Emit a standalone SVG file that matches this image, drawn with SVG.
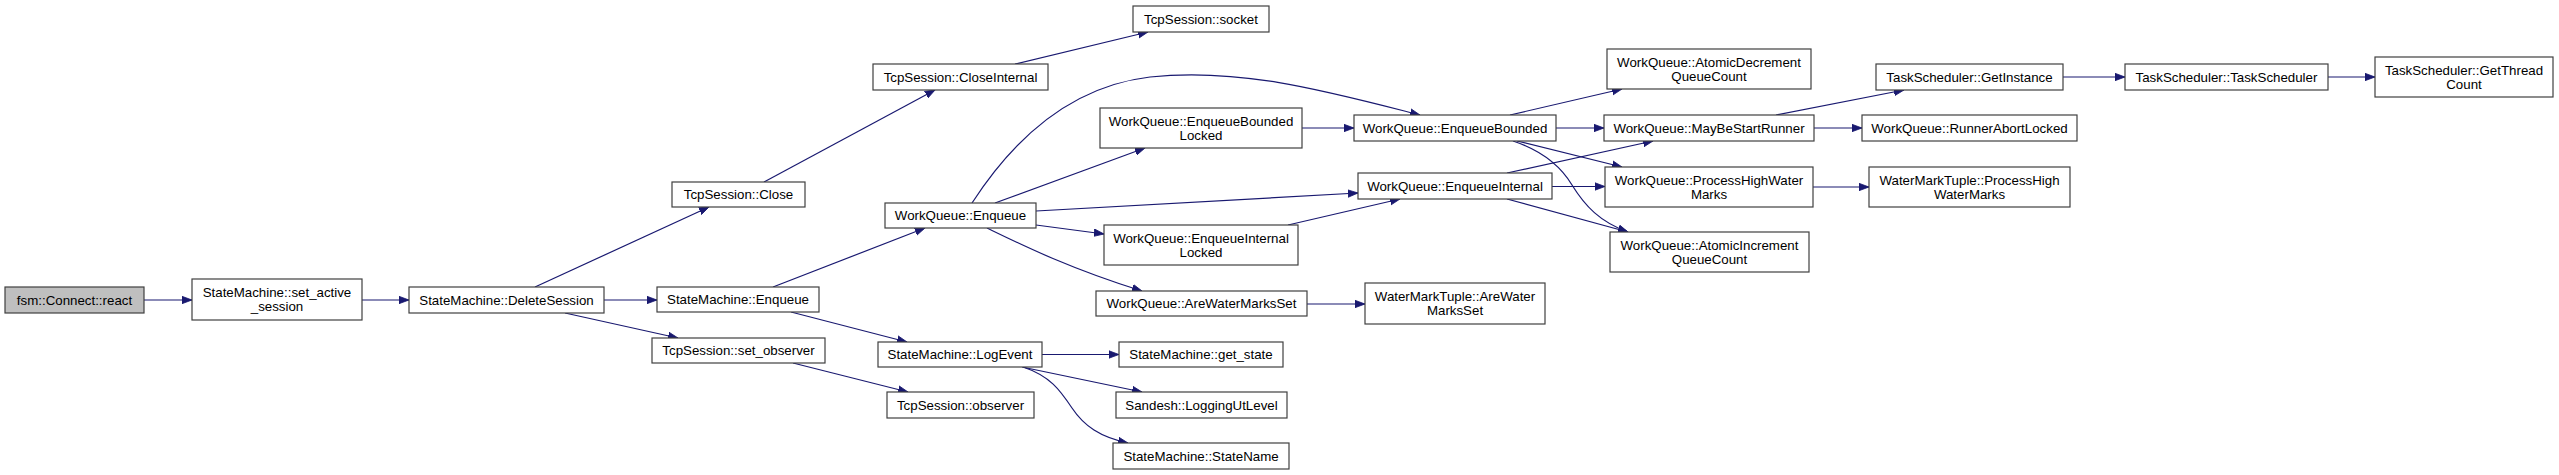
<svg xmlns="http://www.w3.org/2000/svg" width="2559" height="475" viewBox="0 0 2559 475">
<style>
.n rect{fill:#ffffff;stroke:#404040;stroke-width:1.2}
.n.root rect{fill:#bfbfbf}
.n text{font-family:"Liberation Sans",Arial,Helvetica,sans-serif;font-size:13.3px;fill:#000;text-anchor:middle}
.e path{fill:none;stroke:#191970;stroke-width:1.2;marker-end:url(#ah)}
</style>
<defs>
<marker id="ah" markerUnits="userSpaceOnUse" markerWidth="12" markerHeight="10" refX="10" refY="4" orient="auto" viewBox="0 0 12 8">
<path d="M0,0.3 L10,4 L0,7.7 z" fill="#191970" stroke="#191970" stroke-width="0.8"/>
</marker>
</defs>
<rect width="2559" height="475" fill="#ffffff"/>
<g id="edges" class="e">
<path d="M144,300 L192,300"/>
<path d="M362,300 L409,300"/>
<path d="M535,287 L709,207"/>
<path d="M604,300 L657,300"/>
<path d="M565,313 L678,338"/>
<path d="M764,182 L935,90"/>
<path d="M1015,64 L1148,32"/>
<path d="M773,287 L925,228"/>
<path d="M791,312 L907,342"/>
<path d="M793,363 L908,392"/>
<path d="M972,203 C1007,149 1064,87 1150,77 C1240,67 1330,92 1420,115"/>
<path d="M995,203 L1145,148"/>
<path d="M1036,211 L1358,193"/>
<path d="M1036,225 L1104,234"/>
<path d="M987,228 C1020,244 1068,268 1142,291"/>
<path d="M1302,128 L1354,128"/>
<path d="M1288,225 L1400,199"/>
<path d="M1307,304 L1365,304"/>
<path d="M1042,354.5 L1119,354.5"/>
<path d="M1022,367 L1142,392"/>
<path d="M1023,367 C1050,376 1060,390 1072,408 C1084,426 1100,437 1128,443"/>
<path d="M1510,115 L1622,89"/>
<path d="M1556,128 L1604,128"/>
<path d="M1517,141 L1622,167"/>
<path d="M1513,141 C1540,150 1560,165 1572,185 C1585,206 1600,222 1628,232"/>
<path d="M1507,173 L1653,141"/>
<path d="M1552,186.5 L1605,186.5"/>
<path d="M1507,199 L1628,232"/>
<path d="M1776,115 L1904,90"/>
<path d="M1814,128 L1862,128"/>
<path d="M1813,187 L1869,187"/>
<path d="M2063,77 L2125,77"/>
<path d="M2328,77 L2375,77"/>
</g>
<g id="n_react" class="n root"><rect x="5" y="287" width="139" height="26"/><text x="74.5" y="304.5">fsm::Connect::react</text></g>
<g id="n_set_active_session" class="n"><rect x="192" y="279" width="170" height="41"/><text x="277" y="297">StateMachine::set_active</text><text x="277" y="311">_session</text></g>
<g id="n_DeleteSession" class="n"><rect x="409" y="287" width="195" height="26"/><text x="506.5" y="304.5">StateMachine::DeleteSession</text></g>
<g id="n_Close" class="n"><rect x="672" y="182" width="133" height="25"/><text x="738.5" y="199">TcpSession::Close</text></g>
<g id="n_SM_Enqueue" class="n"><rect x="657" y="287" width="162" height="25"/><text x="738" y="304">StateMachine::Enqueue</text></g>
<g id="n_set_observer" class="n"><rect x="652" y="338" width="173" height="25"/><text x="738.5" y="355">TcpSession::set_observer</text></g>
<g id="n_CloseInternal" class="n"><rect x="873" y="64" width="175" height="26"/><text x="960.5" y="81.5">TcpSession::CloseInternal</text></g>
<g id="n_WQ_Enqueue" class="n"><rect x="885" y="203" width="151" height="25"/><text x="960.5" y="220">WorkQueue::Enqueue</text></g>
<g id="n_LogEvent" class="n"><rect x="878" y="342" width="164" height="25"/><text x="960" y="359">StateMachine::LogEvent</text></g>
<g id="n_observer" class="n"><rect x="887" y="392" width="147" height="26"/><text x="960.5" y="409.5">TcpSession::observer</text></g>
<g id="n_socket" class="n"><rect x="1133" y="6" width="136" height="26"/><text x="1201" y="23.5">TcpSession::socket</text></g>
<g id="n_EnqueueBoundedLocked" class="n"><rect x="1100" y="108" width="202" height="40"/><text x="1201" y="125.5">WorkQueue::EnqueueBounded</text><text x="1201" y="139.5">Locked</text></g>
<g id="n_EnqueueInternalLocked" class="n"><rect x="1104" y="225" width="194" height="40"/><text x="1201" y="242.5">WorkQueue::EnqueueInternal</text><text x="1201" y="256.5">Locked</text></g>
<g id="n_AreWaterMarksSet" class="n"><rect x="1096" y="291" width="211" height="25"/><text x="1201.5" y="308">WorkQueue::AreWaterMarksSet</text></g>
<g id="n_get_state" class="n"><rect x="1119" y="342" width="164" height="25"/><text x="1201" y="359">StateMachine::get_state</text></g>
<g id="n_LoggingUtLevel" class="n"><rect x="1116" y="392" width="171" height="26"/><text x="1201.5" y="409.5">Sandesh::LoggingUtLevel</text></g>
<g id="n_StateName" class="n"><rect x="1113" y="443" width="176" height="26"/><text x="1201" y="460.5">StateMachine::StateName</text></g>
<g id="n_EnqueueBounded" class="n"><rect x="1354" y="115" width="202" height="26"/><text x="1455" y="132.5">WorkQueue::EnqueueBounded</text></g>
<g id="n_EnqueueInternal" class="n"><rect x="1358" y="173" width="194" height="26"/><text x="1455" y="190.5">WorkQueue::EnqueueInternal</text></g>
<g id="n_WMT_AreWaterMarksSet" class="n"><rect x="1365" y="283" width="180" height="41"/><text x="1455" y="301">WaterMarkTuple::AreWater</text><text x="1455" y="315">MarksSet</text></g>
<g id="n_AtomicDecrement" class="n"><rect x="1607" y="49" width="204" height="40"/><text x="1709" y="66.5">WorkQueue::AtomicDecrement</text><text x="1709" y="80.5">QueueCount</text></g>
<g id="n_MayBeStartRunner" class="n"><rect x="1604" y="115" width="210" height="26"/><text x="1709" y="132.5">WorkQueue::MayBeStartRunner</text></g>
<g id="n_ProcessHighWaterMarks" class="n"><rect x="1605" y="167" width="208" height="40"/><text x="1709" y="184.5">WorkQueue::ProcessHighWater</text><text x="1709" y="198.5">Marks</text></g>
<g id="n_AtomicIncrement" class="n"><rect x="1610" y="232" width="199" height="40"/><text x="1709.5" y="249.5">WorkQueue::AtomicIncrement</text><text x="1709.5" y="263.5">QueueCount</text></g>
<g id="n_GetInstance" class="n"><rect x="1876" y="64" width="187" height="26"/><text x="1969.5" y="81.5">TaskScheduler::GetInstance</text></g>
<g id="n_RunnerAbortLocked" class="n"><rect x="1862" y="115" width="215" height="26"/><text x="1969.5" y="132.5">WorkQueue::RunnerAbortLocked</text></g>
<g id="n_WMT_ProcessHighWaterMarks" class="n"><rect x="1869" y="167" width="201" height="40"/><text x="1969.5" y="184.5">WaterMarkTuple::ProcessHigh</text><text x="1969.5" y="198.5">WaterMarks</text></g>
<g id="n_TaskScheduler" class="n"><rect x="2125" y="64" width="203" height="26"/><text x="2226.5" y="81.5">TaskScheduler::TaskScheduler</text></g>
<g id="n_GetThreadCount" class="n"><rect x="2375" y="57" width="178" height="40"/><text x="2464" y="74.5">TaskScheduler::GetThread</text><text x="2464" y="88.5">Count</text></g>
</svg>
